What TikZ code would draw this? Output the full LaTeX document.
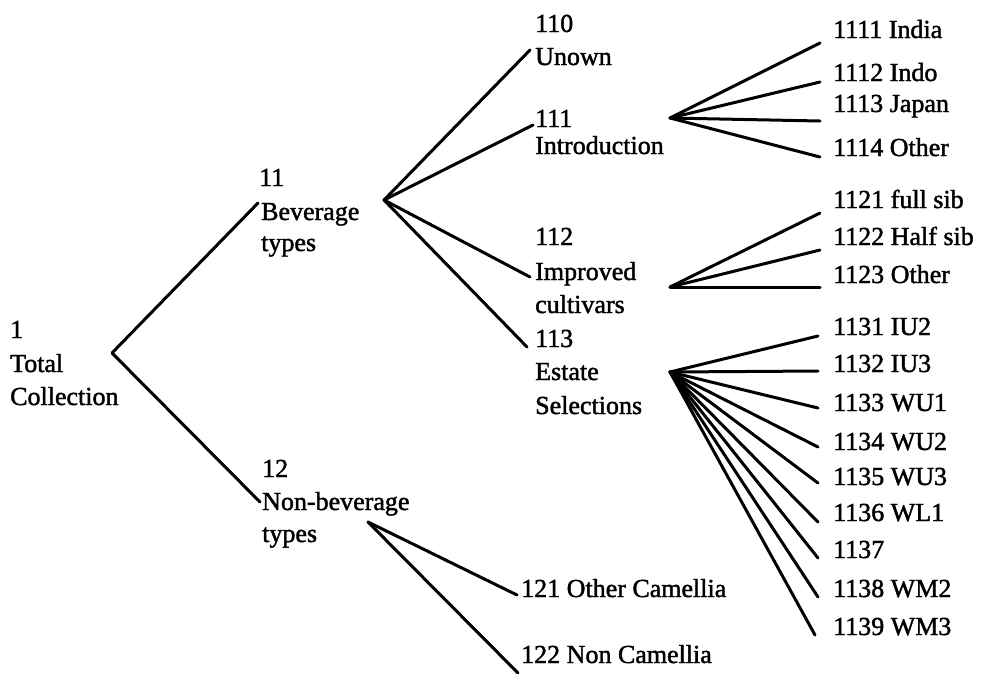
\documentclass[tikz,border=0pt]{standalone}
\usepackage{fontspec}
\setmainfont{Liberation Serif}[FakeBold=1.6]
\begin{document}
\begin{tikzpicture}[x=1pt,y=-1pt,
  lbl/.style={anchor=base west,inner sep=0pt,font=\fontsize{26}{33}\selectfont},
  edge/.style={line width=3pt,line cap=round,line join=round}]
\path[use as bounding box,fill=white] (0,0) rectangle (981,673);
% junctions
\coordinate (root) at (112,353);
\coordinate (bev) at (384,200);
\coordinate (nonbev) at (368,522);
\coordinate (intro) at (670,118);
\coordinate (impr) at (670,287);
\coordinate (est) at (670,372);
% end points
\coordinate (e11) at (258,203);
\coordinate (e12) at (260,502);
\coordinate (e110) at (530,50);
\coordinate (e111) at (533,125);
\coordinate (e112) at (530,277);
\coordinate (e113) at (527,347);
\coordinate (e1111) at (820,43);
\coordinate (e1112) at (820,82);
\coordinate (e1113) at (820,121);
\coordinate (e1114) at (820,157);
\coordinate (e1121) at (820,213);
\coordinate (e1122) at (820,250);
\coordinate (e1123) at (820,287);
\coordinate (e1131) at (818,336);
\coordinate (e1132) at (818,371);
\coordinate (e1133) at (818,408);
\coordinate (e1134) at (818,447);
\coordinate (e1135) at (818,483);
\coordinate (e1136) at (818,522);
\coordinate (e1137) at (818,558);
\coordinate (e1138) at (818,597);
\coordinate (e1139) at (815,635);
\coordinate (e121) at (517,595);
\coordinate (e122) at (518,673);
% connectors
\draw[edge] (e11) -- (root) -- (e12);
\foreach \t in {e110,e111,e112,e113} \draw[edge] (bev) -- (\t);
\foreach \t in {e1111,e1112,e1113,e1114} \draw[edge] (intro) -- (\t);
\foreach \t in {e1121,e1122,e1123} \draw[edge] (impr) -- (\t);
\foreach \t in {e1131,e1132,e1133,e1134,e1135,e1136,e1137,e1138,e1139} \draw[edge] (est) -- (\t);
\foreach \t in {e121,e122} \draw[edge] (nonbev) -- (\t);
% labels
\node[lbl] (t1a) at (10,338) {1};
\node[lbl] (t1b) at (10,372) {Total};
\node[lbl] (t1c) at (10,405) {Collection};
\node[lbl] (t11a) at (259,186) {11};
\node[lbl] (t11b) at (261,220) {Beverage};
\node[lbl] (t11c) at (261,251) {types};
\node[lbl] (t12a) at (262,477) {12};
\node[lbl] (t12b) at (262,510) {Non-beverage};
\node[lbl] (t12c) at (262,542) {types};
\node[lbl] (t110a) at (535,32) {110};
\node[lbl] (t110b) at (535,65) {Unown};
\node[lbl] (t111a) at (535,127) {111};
\node[lbl] (t111b) at (535,154) {Introduction};
\node[lbl] (t112a) at (535,245) {112};
\node[lbl] (t112b) at (535,280) {Improved};
\node[lbl] (t112c) at (535,313) {cultivars};
\node[lbl] (t113a) at (535,347) {113};
\node[lbl] (t113b) at (535,380) {Estate};
\node[lbl] (t113c) at (535,414) {Selections};
\node[lbl] (t1111) at (833,38) {1111 India};
\node[lbl] (t1112) at (833,81) {1112 Indo};
\node[lbl] (t1113) at (833,112) {1113 Japan};
\node[lbl] (t1114) at (833,156) {1114 Other};
\node[lbl] (t1121) at (833,208) {1121 full sib};
\node[lbl] (t1122) at (833,245) {1122 Half sib};
\node[lbl] (t1123) at (833,283) {1123 Other};
\node[lbl] (t1131) at (833,335) {1131 IU2};
\node[lbl] (t1132) at (833,372) {1132 IU3};
\node[lbl] (t1133) at (833,411) {1133 WU1};
\node[lbl] (t1134) at (833,450) {1134 WU2};
\node[lbl] (t1135) at (833,485) {1135 WU3};
\node[lbl] (t1136) at (833,521) {1136 WL1};
\node[lbl] (t1137) at (833,558) {1137};
\node[lbl] (t1138) at (833,597) {1138 WM2};
\node[lbl] (t1139) at (833,635) {1139 WM3};
\node[lbl] (t121) at (521,597) {121 Other Camellia};
\node[lbl] (t122) at (521,663) {122 Non Camellia};
\end{tikzpicture}
\end{document}
